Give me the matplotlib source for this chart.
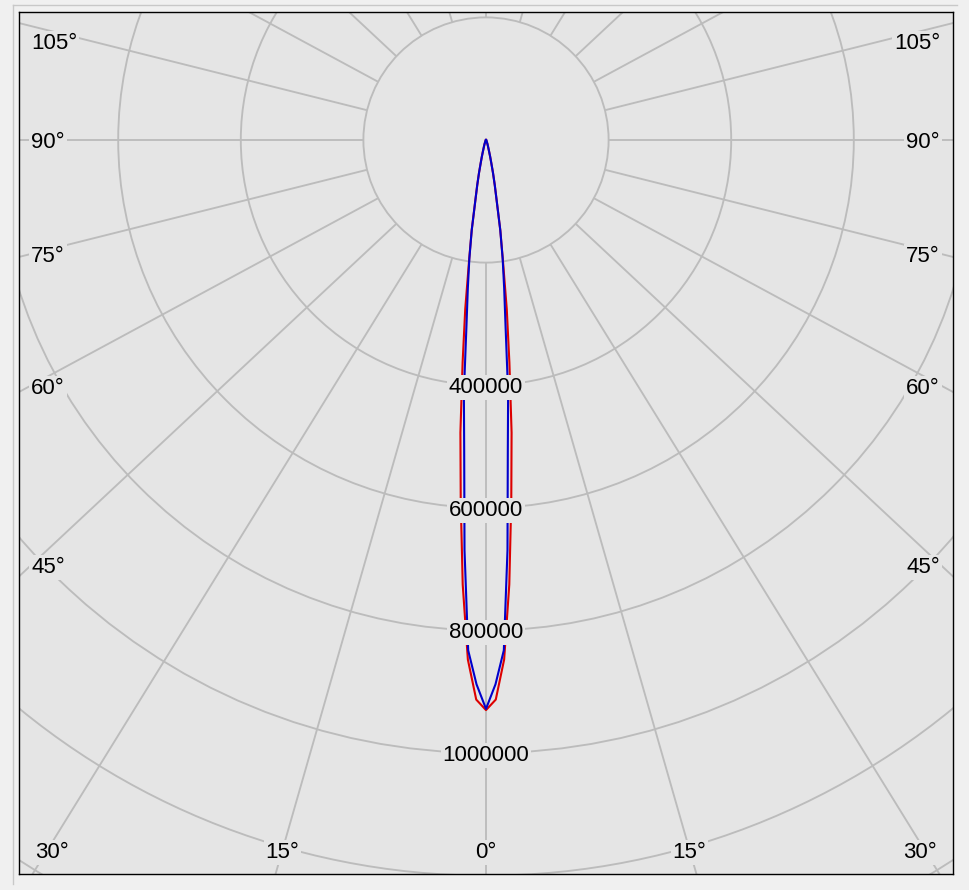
import numpy as np
import matplotlib.pyplot as plt
from matplotlib.lines import Line2D
from matplotlib.patches import Circle

plt.rcParams['font.family'] = ['Liberation Sans', 'DejaVu Sans']

# gamma angle (deg) and luminous intensity (cd) for the two C-planes
angles = [0, 1, 2, 3, 4, 5, 6, 7, 8, 9, 10, 11, 12, 13, 14, 15, 17, 20, 25, 30, 40, 50, 60, 70, 80, 90]
red_cd = [930000, 913000, 848000, 726000, 591000, 479000, 365000, 278000, 198000, 149000,
          100000, 75000, 55000, 38000, 28000, 20000, 12000, 7000, 3000, 1500, 500, 0, 0, 0, 0, 0]
blue_cd = [928000, 888000, 833000, 670000, 510000, 414000, 305000, 243000, 195000, 149000,
           100000, 75000, 55000, 38000, 28000, 20000, 12000, 7000, 3000, 1500, 500, 0, 0, 0, 0, 0]

rings = [200000, 400000, 600000, 800000, 1000000, 1200000, 1400000]
ring_labels = [400000, 600000, 800000, 1000000]
spokes = list(range(0, 360, 15))
bottom_labels = [-30, -15, 0, 15, 30]
side_labels = [45, 60, 75, 90, 105]

BG = '#e5e5e5'
GRID = '#bcbcbc'
W, H = 969, 890
# frame in pixels
FL, FR, FT, FB = 19, 953, 12, 874
CX, CY = 486, 140          # pole position
PX_PER_CD = 613 / 1e6      # 1 000 000 cd = 613 px
STRETCH = 1.07             # spokes are drawn slightly wider than true angle


def px(v):
    return v / PX_PER_CD


fig = plt.figure(figsize=(W / 100, H / 100), dpi=100)
fig.patch.set_facecolor('#f0f0f0')
ax = fig.add_axes([FL / W, (H - FB) / H, (FR - FL) / W, (FB - FT) / H])
ax.set_facecolor(BG)
ax.set_xlim(px(FL - CX), px(FR - CX))
ax.set_ylim(px(CY - FB), px(CY - FT))
ax.set_xticks([])
ax.set_yticks([])
for sp in ax.spines.values():
    sp.set_color('black')
    sp.set_linewidth(1.0)

# rings
for r in rings:
    ax.add_patch(Circle((0, 0), r, fill=False, ec=GRID, lw=1.35, zorder=1))

# spokes, starting at the first ring
for a in spokes:
    t = np.radians(a)
    d = np.array([STRETCH * np.sin(t), -np.cos(t)])
    d /= np.hypot(*d)
    ax.plot([rings[0] * d[0], 3e6 * d[0]], [rings[0] * d[1], 3e6 * d[1]],
            color=GRID, lw=1.35, zorder=1, solid_capstyle='butt')

# intensity curves, mirrored across the vertical
def curve(vals):
    g = np.radians(np.concatenate([-np.array(angles[::-1]), np.array(angles[1:])]))
    i = np.concatenate([np.array(vals[::-1]), np.array(vals[1:])])
    return i * np.sin(g), -i * np.cos(g)

x, y = curve(red_cd)
ax.plot(x, y, color='#dd0000', lw=1.5, zorder=3)
x, y = curve(blue_cd)
ax.plot(x, y, color='#0000cc', lw=1.5, zorder=4)

box = dict(facecolor=BG, edgecolor='none', pad=1.5)
fs = 16
va = 'center_baseline'

for r in ring_labels:
    ax.text(0, -r, str(r), ha='center', va=va, fontsize=fs, color='black',
            bbox=box, zorder=5)

# angle labels along the bottom
for a in bottom_labels:
    dy = 710
    dx = dy * STRETCH * np.tan(np.radians(abs(a)))
    dx = min(dx, CX - FL - 33)
    ax.text(px(np.sign(a) * dx), px(-dy), f"{abs(a)}°", ha='center', va=va,
            fontsize=fs, color='black', bbox=box, zorder=5)

# angle labels on both sides
for a in side_labels:
    t = np.radians(a)
    dx = CX - FL - 12
    dy = dx * np.cos(t) / (STRETCH * np.sin(t))
    dy = max(dy, -(CY - FT - 29))
    ax.text(px(-dx), px(-dy), f"{a}°", ha='left', va=va, fontsize=fs,
            color='black', bbox=box, zorder=5)
    ax.text(px(dx - 1), px(-dy), f"{a}°", ha='right', va=va, fontsize=fs,
            color='black', bbox=box, zorder=5)

# thin panel outline at top and left
fig.add_artist(Line2D([13 / W, 13 / W], [1 - 5 / H, 1 - 884 / H], color='#c8c8c8', lw=1))
fig.add_artist(Line2D([13 / W, 957 / W], [1 - 5 / H, 1 - 5 / H], color='#c8c8c8', lw=1))

fig.savefig('out.png', dpi=100, facecolor=fig.get_facecolor())
